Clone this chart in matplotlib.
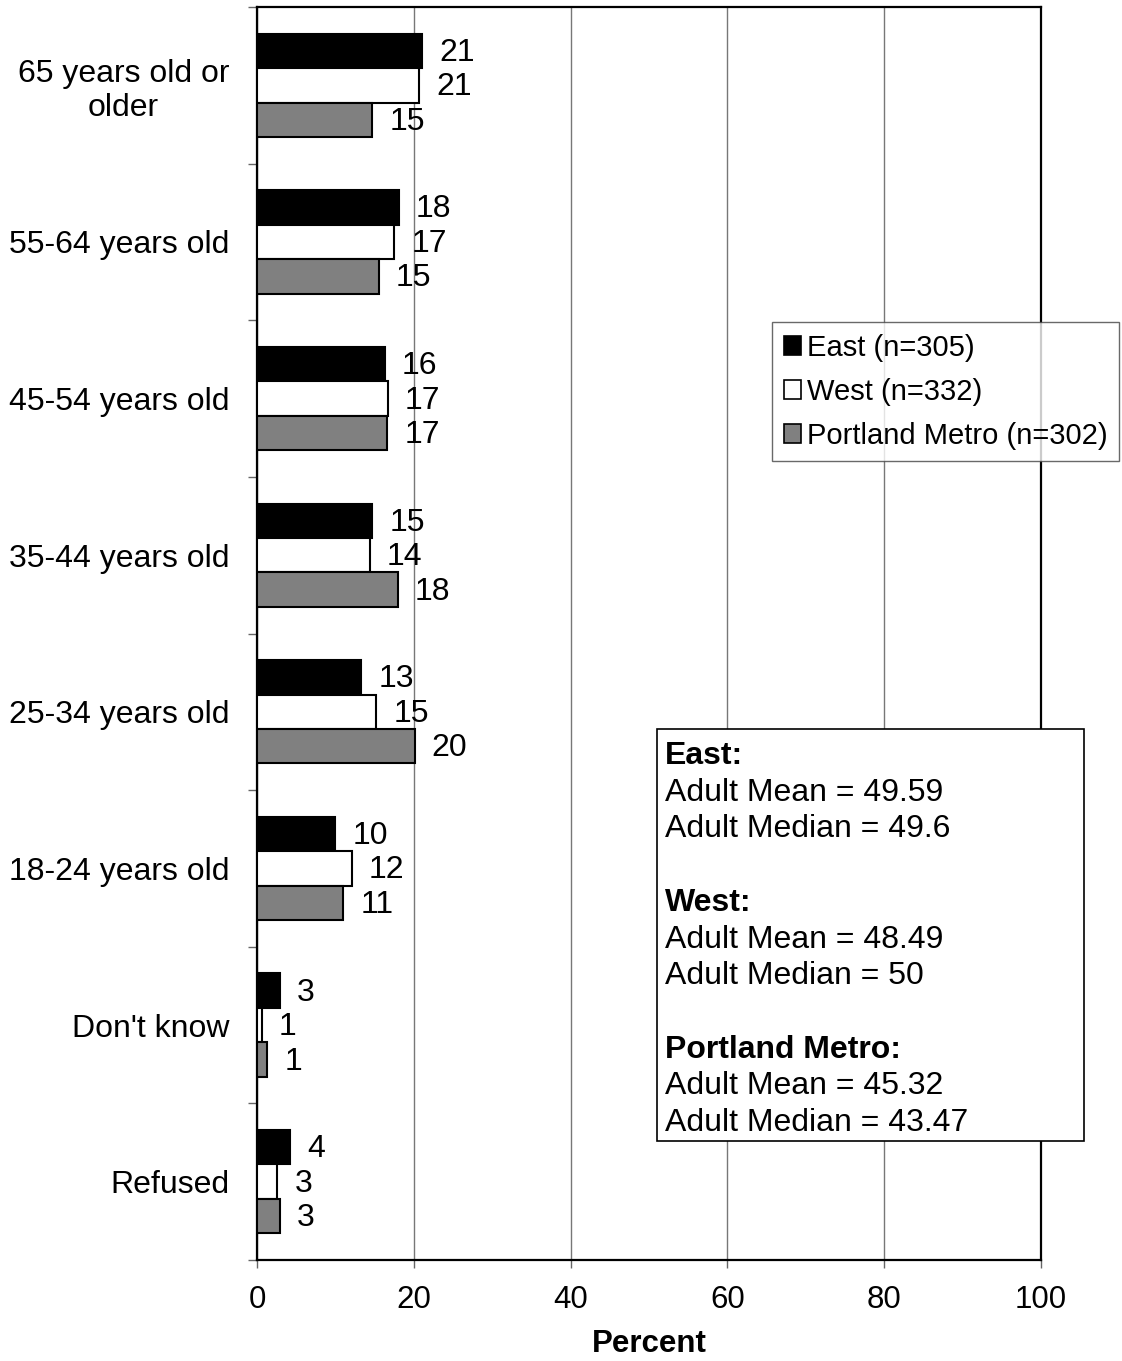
import matplotlib
matplotlib.use('Agg')
import matplotlib.pyplot as plt
from matplotlib.patches import Patch, Rectangle

plt.rcParams['font.family'] = ['Liberation Sans', 'DejaVu Sans']

# DATA
categories = ['65 years old or\nolder', '55-64 years old', '45-54 years old', '35-44 years old',
              '25-34 years old', '18-24 years old', "Don't know", 'Refused']
east = [21.1, 18.1, 16.3, 14.7, 13.3, 10.0, 2.9, 4.2]
west = [20.7, 17.5, 16.7, 14.4, 15.2, 12.1, 0.6, 2.6]
metro = [14.7, 15.5, 16.6, 18.0, 20.1, 11.0, 1.3, 2.9]
east_labels = ['21', '18', '16', '15', '13', '10', '3', '4']
west_labels = ['21', '17', '17', '14', '15', '12', '1', '3']
metro_labels = ['15', '15', '17', '18', '20', '11', '1', '3']
series_names = ['East (n=305)', 'West (n=332)', 'Portland Metro (n=302)']
series_colors = ['black', 'white', '#808080']
x_ticks = [0, 20, 40, 60, 80, 100]

stats_lines = [('East:', True), ('Adult Mean = 49.59', False), ('Adult Median = 49.6', False), ('', False),
               ('West:', True), ('Adult Mean = 48.49', False), ('Adult Median = 50', False), ('', False),
               ('Portland Metro:', True), ('Adult Mean = 45.32', False), ('Adult Median = 43.47', False)]

# FIGURE
fig = plt.figure(figsize=(11.22, 13.61), dpi=100)
ax = fig.add_axes([257 / 1122, 1 - 1260 / 1361, (1041 - 257) / 1122, (1260 - 7) / 1361])

h = 0.22
pos = list(range(len(categories)))
all_series = [east, west, metro]
all_labels = [east_labels, west_labels, metro_labels]
for k in range(3):
    ys = [p + (k - 1) * h for p in pos]
    ax.barh(ys, all_series[k], height=h, color=series_colors[k], edgecolor='black', linewidth=1.5, zorder=3)
    for y, v, lab in zip(ys, all_series[k], all_labels[k]):
        ax.annotate(lab, (v, y), xytext=(17, -2), textcoords='offset pixels',
                    ha='left', va='center', fontsize=23, zorder=4)

ax.set_xlim(0, 100)
ax.set_ylim(len(categories) - 0.5, -0.5)
ax.set_xticks(x_ticks)
ax.tick_params(axis='x', labelsize=22.5, length=6, width=1, color='#666666', pad=12)
ax.set_yticks([i - 0.5 for i in range(len(categories) + 1)])
ax.set_yticklabels([])
ax.tick_params(axis='y', which='major', length=6.5, width=1, color='#666666')
ax.set_yticks(pos, minor=True)
ax.set_yticklabels(categories, minor=True, fontsize=23, ha='right', multialignment='center')
ax.tick_params(axis='y', which='minor', length=0, pad=20)
ax.grid(True, axis='x', color='#777777', linewidth=1, zorder=0)
for s in ax.spines.values():
    s.set_linewidth(1.6)
ax.set_xlabel('Percent', fontsize=22.5, fontweight='bold', labelpad=10)

# legend
handles = [Patch(facecolor=c, edgecolor='black', linewidth=1.2) for c in series_colors]
leg = fig.legend(handles, series_names, loc='upper left', bbox_to_anchor=(772 / 1122, 1 - 322 / 1361),
                 fontsize=21, frameon=True, fancybox=False, handlelength=0.6, handleheight=0.6,
                 handletextpad=0.2, labelspacing=0.55, borderpad=0.4, borderaxespad=0)
leg.get_frame().set_edgecolor('#444444')
leg.get_frame().set_linewidth(1)

# stats box
fig.add_artist(Rectangle((657 / 1122, 1 - 1141 / 1361), (1084 - 657) / 1122, (1141 - 729) / 1361,
                         transform=fig.transFigure, facecolor='white', edgecolor='black', linewidth=1.2, zorder=5))
for i, (line, bold) in enumerate(stats_lines):
    fig.text(665 / 1122, 1 - (756 + i * 36.7) / 1361, line, fontsize=23, va='center', ha='left',
             fontweight='bold' if bold else 'normal', zorder=6)

fig.savefig('out.png', dpi=100)
